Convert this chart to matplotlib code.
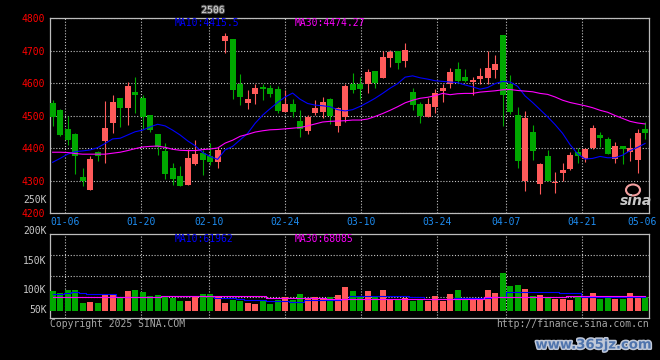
import matplotlib
matplotlib.use("Agg")
import matplotlib.pyplot as plt
import matplotlib.patheffects as pe
from matplotlib.patches import Ellipse
import numpy as np

plt.rcParams['font.family'] = ['DejaVu Sans Mono']

# ---------------- data ----------------
title = "2506"
opens = [4539, 4516, 4460, 4443, 4311, 4272, 4388, 4422, 4478, 4553,
         4523, 4571, 4553, 4501, 4443, 4391, 4339, 4314, 4287, 4351,
         4385, 4374, 4358, 4729, 4734, 4598, 4539, 4565, 4588, 4584,
         4581, 4510, 4535, 4483, 4452, 4507, 4510, 4550, 4468, 4494,
         4596, 4596, 4596, 4636, 4615, 4676, 4700, 4667, 4571, 4535,
         4496, 4527, 4574, 4596, 4642, 4620, 4603, 4611, 4616, 4639,
         4749, 4598, 4501, 4297, 4449, 4288, 4376, 4292, 4322, 4334,
         4387, 4366, 4400, 4440, 4428, 4367, 4406, 4387, 4364, 4458]
highs = [4547, 4520, 4498, 4445, 4339, 4374, 4391, 4544, 4562, 4553,
         4602, 4617, 4563, 4501, 4443, 4415, 4354, 4345, 4397, 4424,
         4395, 4415, 4399, 4753, 4734, 4629, 4578, 4598, 4598, 4593,
         4590, 4578, 4550, 4516, 4503, 4547, 4557, 4553, 4527, 4598,
         4632, 4617, 4642, 4636, 4700, 4703, 4700, 4724, 4584, 4541,
         4554, 4581, 4598, 4645, 4666, 4642, 4617, 4645, 4697, 4685,
         4749, 4626, 4525, 4515, 4470, 4355, 4394, 4327, 4355, 4389,
         4399, 4399, 4470, 4449, 4434, 4418, 4406, 4431, 4458, 4481]
lows = [4467, 4437, 4409, 4321, 4284, 4272, 4361, 4355, 4447, 4465,
        4471, 4508, 4460, 4448, 4377, 4305, 4287, 4284, 4287, 4348,
        4317, 4348, 4340, 4692, 4550, 4533, 4520, 4535, 4549, 4557,
        4509, 4510, 4496, 4435, 4443, 4501, 4491, 4474, 4448, 4481,
        4569, 4552, 4569, 4585, 4615, 4649, 4642, 4649, 4516, 4478,
        4496, 4508, 4542, 4584, 4600, 4602, 4563, 4596, 4596, 4616,
        4468, 4504, 4340, 4269, 4363, 4257, 4300, 4263, 4297, 4331,
        4353, 4357, 4397, 4403, 4381, 4355, 4351, 4361, 4322, 4429]
closes = [4496, 4440, 4425, 4374, 4297, 4366, 4374, 4461, 4541, 4523,
          4590, 4563, 4496, 4455, 4402, 4321, 4305, 4284, 4370, 4382,
          4364, 4357, 4394, 4746, 4579, 4557, 4550, 4584, 4583, 4567,
          4513, 4535, 4510, 4459, 4496, 4522, 4541, 4499, 4522, 4591,
          4578, 4583, 4633, 4599, 4679, 4694, 4661, 4703, 4533, 4498,
          4535, 4570, 4584, 4633, 4607, 4606, 4610, 4623, 4645, 4657,
          4562, 4511, 4361, 4492, 4392, 4351, 4300, 4295, 4333, 4379,
          4374, 4397, 4461, 4432, 4383, 4406, 4398, 4400, 4446, 4447]
ma10 = [4356, 4368, 4381, 4389, 4391, 4394, 4401, 4414, 4428, 4430,
        4440, 4450, 4455, 4465, 4473, 4468, 4455, 4440, 4422, 4407,
        4386, 4374, 4365, 4394, 4405, 4425, 4445, 4476, 4501, 4521,
        4540, 4557, 4569, 4550, 4537, 4532, 4530, 4527, 4518, 4514,
        4518, 4528, 4540, 4553, 4568, 4584, 4598, 4618, 4622, 4616,
        4612, 4607, 4605, 4603, 4601, 4594, 4588, 4581, 4586, 4598,
        4605, 4603, 4590, 4560, 4540, 4518, 4496, 4472, 4445, 4410,
        4382, 4366, 4368, 4374, 4370, 4370, 4378, 4392, 4402, 4414]
ma30 = [4387, 4387, 4386, 4383, 4381, 4381, 4381, 4381, 4384, 4387,
        4392, 4398, 4403, 4405, 4406, 4402, 4396, 4393, 4392, 4392,
        4395, 4397, 4400, 4415, 4424, 4436, 4442, 4449, 4453, 4456,
        4457, 4459, 4461, 4463, 4468, 4474, 4480, 4482, 4483, 4484,
        4486, 4486, 4489, 4497, 4506, 4516, 4527, 4539, 4547, 4553,
        4556, 4561, 4568, 4564, 4567, 4568, 4568, 4572, 4574, 4576,
        4579, 4580, 4577, 4575, 4573, 4568, 4565, 4557, 4547, 4540,
        4535, 4530, 4524, 4516, 4510, 4500, 4491, 4482, 4477, 4474]
volume = [92, 80, 95, 95, 35, 40, 35, 77, 72, 58,
          90, 95, 86, 69, 72, 69, 60, 44, 44, 63,
          77, 77, 63, 35, 51, 44, 35, 31, 43, 31,
          51, 63, 51, 77, 54, 63, 57, 63, 72, 109,
          92, 63, 90, 66, 95, 55, 55, 60, 46, 49,
          44, 67, 44, 77, 95, 57, 60, 60, 95, 81,
          173, 113, 118, 100, 67, 72, 58, 54, 54, 49,
          67, 67, 81, 54, 63, 54, 54, 81, 64, 63]
vol_ma10 = [75, 76, 80, 84, 80, 78, 78, 78, 76, 64,
            62, 61, 61, 61, 61, 66, 66, 66, 66, 66,
            66, 66, 58, 57, 57, 56, 50, 49, 49, 46,
            46, 44, 42, 42, 47, 50, 51, 49, 49, 52,
            69, 69, 69, 69, 69, 69, 69, 69, 64, 64,
            54, 54, 54, 54, 60, 60, 60, 60, 60, 64,
            64, 87, 87, 87, 87, 87, 87, 87, 80, 80,
            80, 64, 64, 64, 64, 64, 64, 64, 63, 62]
vol_ma30 = [65, 65, 65, 65, 65, 65, 65, 65, 65, 65,
            65, 65, 65, 65, 65, 68, 68, 68, 68, 68,
            68, 68, 68, 68, 68, 68, 68, 68, 68, 60,
            60, 60, 60, 60, 60, 60, 60, 55, 55, 55,
            55, 55, 55, 55, 55, 55, 55, 55, 55, 55,
            55, 55, 55, 55, 55, 55, 55, 55, 64, 64,
            64, 64, 64, 64, 65, 65, 65, 65, 65, 66,
            66, 66, 66, 67, 67, 67, 67, 68, 68, 68]
date_labels = ["01-06", "01-20", "02-10", "02-24", "03-10", "03-24", "04-07", "04-21", "05-06"]
date_index = [2, 12, 21, 31, 41, 51, 60, 70, 78]
price_ticks = [4200, 4300, 4400, 4500, 4600, 4700, 4800]
vol_labels = ["250K", "200K", "150K", "100K", "50K"]
ma_price_text = ["MA10:4415.5", "MA30:4474.27"]
ma_vol_text = ["MA10:61962", "MA30:68085"]

# ---------------- styling ----------------
W, H = 660, 360
UP = '#ff5a5a'
DOWN = '#00a800'
GRID = '#c4c4c4'
SPINE = '#bcbcbc'
BLUE = '#0000ff'
MAG = '#ff00ff'
DATEC = '#1e8cf0'
dotted = (0, (1, 1.6))

def fx(px):
    return px / W

def fy(py):
    return 1 - py / H

fig = plt.figure(figsize=(6.6, 3.6), dpi=100, facecolor='black')
ax = fig.add_axes([fx(50), fy(213), 599.3 / W, 195 / H], facecolor='black')
axv = fig.add_axes([fx(50), fy(318.3), 599.3 / W, 84 / H], facecolor='black')

n = len(closes)
x = np.arange(n)
xlim = (-0.35, 79.56)
bw = 0.78
o = np.array(opens, float); c = np.array(closes, float)
hi = np.array(highs, float); lo = np.array(lows, float)
up = c >= o
cols = [UP if u else DOWN for u in up]

# candles
ax.vlines(x, lo, hi, colors=cols, linewidth=0.8, zorder=3)
body_h = np.maximum(np.abs(c - o), 2.0)
ax.bar(x, body_h, bottom=np.minimum(o, c), width=bw, color=cols, linewidth=0, zorder=4)
ax.plot(x, ma10, color=BLUE, lw=0.8, zorder=5)
ax.plot(x, ma30, color=MAG, lw=0.8, zorder=5)
ax.set_xlim(*xlim)
ax.set_ylim(4200, 4800)

# gridline positions follow the chart's own day spacing (79 steps across the panel)
grid_pos = [d * 80 / 79 - 0.35 for d in date_index]

for a in (ax, axv):
    for s in a.spines.values():
        s.set_color(SPINE)
        s.set_linewidth(0.9)
    a.set_xticks(grid_pos)
    a.grid(True, color=GRID, linestyle=dotted, linewidth=0.8)
    a.tick_params(length=0)
    a.set_axisbelow(True)

ax.set_yticks(price_ticks)
ax.set_yticklabels([str(t) for t in price_ticks])
ax.tick_params(axis='y', labelcolor='#ff0000', labelsize=7, pad=3.5)
ax.set_xticklabels(date_labels)
ax.tick_params(axis='x', labelcolor=DATEC, labelsize=7, pad=3)
last = ax.get_xticklabels()[-1]
last.set_horizontalalignment('right')
ax.get_xgridlines()[-1].set_visible(False)
axv.get_xgridlines()[-1].set_visible(False)
# shift the last date label to end at the right border
import matplotlib.transforms as mtrans
last.set_transform(last.get_transform() + mtrans.ScaledTranslation(14.5 / 100, 0, fig.dpi_scale_trans))

# volume panel
vol = np.array(volume) * 1000
axv.bar(x, vol, width=bw, color=cols, linewidth=0, zorder=3)
axv.plot(x, np.array(vol_ma10) * 1000, color=BLUE, lw=0.8, drawstyle='steps-mid', zorder=4)
axv.plot(x, np.array(vol_ma30) * 1000, color=MAG, lw=0.8, drawstyle='steps-mid', zorder=4)
axv.set_xlim(*xlim)
vlo, vhi = -7.6 * 4600, 76.4 * 4600
axv.set_ylim(vlo, vhi)
axv.set_yticks([vlo + (vhi - vlo) * f for f in (0.25, 0.5, 0.75)])
axv.set_yticklabels([])
axv.set_xticklabels([])

# texts
mono = dict(family='DejaVu Sans Mono', fontsize=7)
fig.text(fx(213), fy(10), title, color='#d8d8d8', ha='center', va='center',
         path_effects=[pe.withStroke(linewidth=1.5, foreground='#505050')], **mono)
fig.text(fx(175), fy(23.5), ma_price_text[0], color=BLUE, ha='left', va='center', **mono)
fig.text(fx(295), fy(23.5), ma_price_text[1], color=MAG, ha='left', va='center', **mono)
fig.text(fx(175), fy(238.5), ma_vol_text[0], color=BLUE, ha='left', va='center', **mono)
fig.text(fx(295), fy(238.5), ma_vol_text[1], color=MAG, ha='left', va='center', **mono)
for lab, py in zip(vol_labels, [200, 231, 261, 290, 310]):
    fig.text(fx(46.5), fy(py), lab, color='#c8c8c8', ha='right', va='center', **mono)
fig.text(fx(50), fy(323.8), "Copyright 2025 SINA.COM", color='#a8a8a8', ha='left', va='center', **mono)
fig.text(fx(649), fy(323.8), "http://finance.sina.com.cn", color='#a8a8a8', ha='right', va='center', **mono)

# sina logo
fig.patches.append(Ellipse((fx(633), fy(190)), 14 / W, 11 / H, transform=fig.transFigure,
                           facecolor='none', edgecolor='#f4a0a0', linewidth=1.5))
fig.text(fx(636), fy(201), "sina", color='#c8c8c8', ha='center', va='center', fontsize=10,
         family='DejaVu Sans', fontweight='bold', style='italic')

# watermark
fig.text(fx(594), fy(345), "www.365jz.com", color='#4f74ad', ha='center', va='center',
         fontsize=9.5, family='DejaVu Sans', fontweight='bold',
         path_effects=[pe.withStroke(linewidth=2.2, foreground='#c0c8d8')])

fig.savefig('out.png', dpi=100, facecolor='black')
